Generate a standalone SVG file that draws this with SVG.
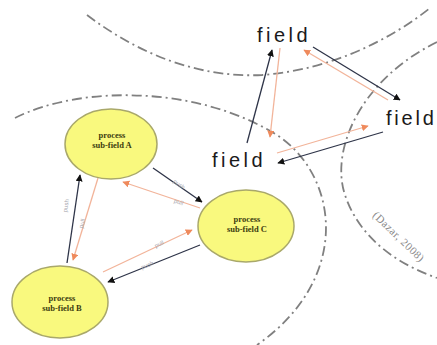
<svg xmlns="http://www.w3.org/2000/svg" width="437" height="345" viewBox="0 0 437 345">
  <style>
    .boundary { fill: none; stroke: #808080; stroke-width: 1.8; stroke-dasharray: 10 4 2 4; }
    .proc { fill: #f9f97e; stroke: #a9a86a; stroke-width: 1.5; }
    .ptext { font-family: "Liberation Serif", serif; font-weight: bold; font-size: 8.5px; fill: #3d3d10; text-anchor: middle; }
    .field { font-family: "Liberation Sans", Arial, sans-serif; font-size: 20px; letter-spacing: 3.5px; fill: #1a1a1a; }
    .push { stroke: #2e3448; stroke-width: 1.3; fill: none; marker-end: url(#headDark); }
    .pull { stroke: #f2b49a; stroke-width: 1.3; fill: none; marker-end: url(#headOrange); }
    .elabel { font-family: "Liberation Sans", Arial, sans-serif; font-size: 6px; fill: #a8a8b0; text-anchor: middle; }
    .cite { font-family: "Liberation Serif", serif; font-size: 11px; letter-spacing: 0.5px; fill: #8a8a8a; }
  </style>
  <defs>
    <marker id="headDark" viewBox="0 0 10 10" refX="9" refY="5" markerWidth="7" markerHeight="7" markerUnits="userSpaceOnUse" orient="auto">
      <path d="M0,0 L10,5 L0,10 z" fill="#111"/>
    </marker>
    <marker id="headOrange" viewBox="0 0 10 10" refX="9" refY="5" markerWidth="7" markerHeight="7" markerUnits="userSpaceOnUse" orient="auto">
      <path d="M0,0 L10,5 L0,10 z" fill="#ef8a5c"/>
    </marker>
  </defs>

  <rect width="437" height="345" fill="#ffffff"/>

  <!-- field boundaries -->
  <g id="boundaries">
    <path class="boundary" d="M87,15 C140,55 200,78 262,75 C330,70 390,40 430,8"/>
    <path class="boundary" d="M15,118 C80,85 200,85 280,137 C340,180 350,280 257,345"/>
    <path class="boundary" d="M437,42 C360,80 330,150 345,195 C360,240 400,265 437,278"/>
    <text class="cite" transform="translate(372,216) rotate(44)">(Dazar, 2008)</text>
  </g>

  <!-- connectors -->
  <g id="connectors">
    <path class="push" d="M153,168 L202,202"/>
    <path class="pull" d="M200,208 L123,182"/>
    <path class="push" d="M67,263 L80,175"/>
    <path class="pull" d="M98,178 L73,260"/>
    <path class="push" d="M200,245 L108,282"/>
    <path class="pull" d="M103,272 L192,230"/>

    <path class="push" d="M247,143 L272,50"/>
    <path class="pull" d="M280,48 L270,137"/>
    <path class="push" d="M313,47 L400,100"/>
    <path class="pull" d="M388,100 L304,50"/>
    <path class="push" d="M383,132 L278,163"/>
    <path class="pull" d="M277,153 L368,126"/>

    <text class="elabel" transform="translate(178,186) rotate(35)">push</text>
    <text class="elabel" transform="translate(178,204) rotate(18)">pull</text>
    <text class="elabel" transform="translate(68,206) rotate(-82)">push</text>
    <text class="elabel" transform="translate(84,224) rotate(-75)">pull</text>
    <text class="elabel" transform="translate(160,246) rotate(-25)">pull</text>
    <text class="elabel" transform="translate(148,267) rotate(-22)">push</text>
  </g>

  <g id="nodeA">
    <ellipse class="proc" cx="111" cy="144" rx="46" ry="35"/>
    <text class="ptext" x="112" y="138">process</text>
    <text class="ptext" x="112" y="148">sub-field A</text>
  </g>
  <g id="nodeB">
    <ellipse class="proc" cx="60" cy="302" rx="48" ry="36"/>
    <text class="ptext" x="62" y="301">process</text>
    <text class="ptext" x="62" y="311">sub-field B</text>
  </g>
  <g id="nodeC">
    <ellipse class="proc" cx="246" cy="226" rx="48" ry="36"/>
    <text class="ptext" x="247" y="222">process</text>
    <text class="ptext" x="247" y="232">sub-field C</text>
  </g>

  <g id="fieldTop"><text class="field" x="257" y="42">field</text></g>
  <g id="fieldLeft"><text class="field" x="212" y="167">field</text></g>
  <g id="fieldRight"><text class="field" x="386" y="125" style="letter-spacing:2.8px">field</text></g>
</svg>
